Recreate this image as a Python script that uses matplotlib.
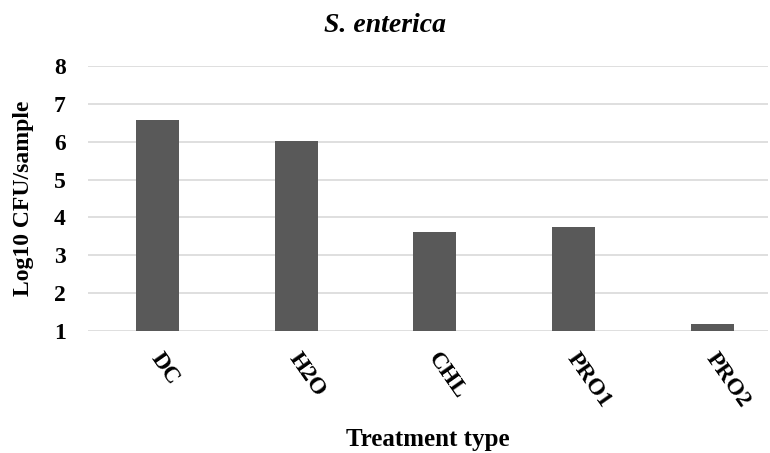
import matplotlib
matplotlib.use('Agg')
import matplotlib.pyplot as plt
import matplotlib.transforms as mtransforms

# Treatment types and log10 CFU values
treatments = ['DC', 'H2O', 'CHL', 'PRO1', 'PRO2']
log_cfu = [6.58, 6.01, 3.62, 3.74, 1.19]
y_ticks = [1, 2, 3, 4, 5, 6, 7, 8]

plt.rcParams['font.family'] = ['Liberation Serif', 'DejaVu Serif']

fig = plt.figure(figsize=(7.7, 4.53), dpi=100)
ax = fig.add_axes([88 / 770, 1 - 331 / 453, (768 - 88) / 770, (331 - 66) / 453])

ax.bar(range(len(treatments)), [v - 1 for v in log_cfu], bottom=1,
       width=0.31, color='#595959', zorder=3)

ax.set_ylim(1, 8)
ax.set_xlim(-0.5, 4.4)
ax.set_yticks(y_ticks)
ax.set_yticklabels([str(t) for t in y_ticks], fontsize=17, fontweight='bold')
ax.set_xticks(range(len(treatments)))
ax.set_xticklabels(treatments, fontsize=17, fontweight='bold',
                   rotation=-55, ha='left', va='top', rotation_mode='anchor')
ax.tick_params(length=0)
ax.tick_params(axis='y', pad=16)
ax.tick_params(axis='x', pad=13)

# nudge the rotated category labels a little to the right
shift = mtransforms.ScaledTranslation(6 / 100, 0, fig.dpi_scale_trans)
for lbl in ax.get_xticklabels():
    lbl.set_transform(lbl.get_transform() + shift)

ax.grid(axis='y', color='#d9d9d9', linewidth=1.2, zorder=0)
for s in ax.spines.values():
    s.set_visible(False)

ax.set_ylabel('Log10 CFU/sample', fontsize=17, fontweight='bold', labelpad=14)
ax.set_xlabel('Treatment type', fontsize=18, fontweight='bold', labelpad=12)
fig.text(0.5, 1 - 25 / 453, 'S. enterica', ha='center', va='center',
         fontsize=20, fontweight='bold', fontstyle='italic')

fig.savefig('out.png', dpi=100)
